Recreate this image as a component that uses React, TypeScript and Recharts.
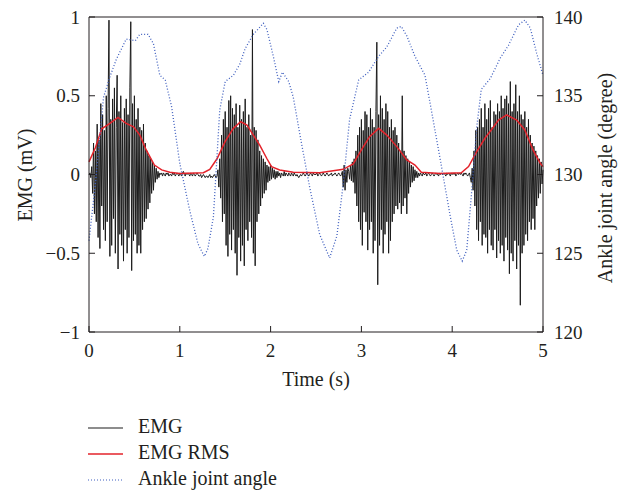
import { ComposedChart, Line, XAxis, YAxis } from 'recharts';

// EMG samples, one every 0.01 s from 0 to 5 s
const emgStep = 0.01;
const emgValues = [
  0, 0.01, -0.02, 0.05, -0.12, 0.2, -0.25, 0.15, -0.3, 0.32,
  -0.4, 0.22, -0.47, 0.45, -0.2, 0.38, -0.35, 0.28, -0.42, 0.5,
  -0.3, 0.42, 0.98, -0.52, 0.35, -0.45, 0.48, -0.28, 0.55, -0.5,
  0.3, 0.63, -0.6, 0.4, -0.38, 0.5, -0.45, 0.33, -0.55, 0.42,
  -0.35, 0.48, -0.5, 0.38, -0.4, 0.55, 0.97, -0.61, 0.45, -0.42,
  0.5, -0.38, 0.35, -0.5, 0.42, -0.45, 0.3, -0.5, 0.28, -0.35,
  0.32, -0.3, 0.2, -0.28, 0.15, -0.22, 0.12, -0.18, 0.1, -0.12,
  0.08, -0.1, 0.06, -0.05, 0.04, -0.03, 0.02, -0.02, 0.01, 0,
  0.01, -0.01, 0.01, 0, -0.01, 0.01, 0, 0.01, -0.01, 0,
  0, -0.01, 0.01, 0, 0.01, -0.01, 0, 0.01, 0, -0.01,
  0.01, 0, -0.01, 0.01, 0.02, 0, -0.01, 0.01, 0, 0.01,
  0, -0.01, 0.01, 0, -0.01, 0.01, 0, -0.01, 0, 0.01,
  0, -0.01, -0.01, 0, -0.02, -0.01, 0, -0.01, -0.02, -0.01,
  -0.01, -0.02, -0.01, 0, -0.02, -0.01, -0.02, -0.01, 0, -0.01,
  -0.02, -0.01, 0.03, -0.08, 0.1, -0.15, 0.25, -0.3, 0.35, -0.25,
  0.4, -0.45, 0.3, -0.52, 0.47, -0.38, 0.5, -0.48, 0.42, -0.35,
  0.38, -0.5, 0.45, -0.64, 0.3, -0.4, 0.44, -0.55, 0.35, -0.45,
  0.4, -0.58, 0.48, -0.35, 0.3, -0.42, 0.38, -0.3, 0.25, -0.4,
  0.92, -0.5, 0.3, -0.58, 0.28, -0.3, 0.22, -0.25, 0.15, -0.2,
  0.12, -0.15, 0.1, -0.12, 0.08, -0.1, 0.06, -0.05, 0.05, -0.04,
  0.06, -0.03, 0.04, -0.02, 0.03, -0.03, 0.02, -0.02, 0.02, -0.01,
  0.01, -0.02, 0.01, 0, -0.01, 0.02, -0.01, 0.01, 0, -0.01,
  0.01, 0, -0.01, 0.01, 0, -0.01, 0.01, 0, -0.01, 0,
  -0.01, -0.02, -0.01, 0, -0.01, 0, 0.01, 0, -0.01, 0,
  0.01, 0, -0.01, 0, 0.01, 0, -0.01, 0.01, 0, 0,
  0, 0.01, -0.01, 0, 0.01, 0, -0.01, 0, 0.01, 0,
  -0.01, 0, 0.01, 0, -0.01, 0, 0, 0.01, -0.01, 0,
  0, 0.01, 0, -0.01, 0, 0.01, 0, -0.01, 0, 0.02,
  -0.08, 0.06, -0.1, 0.03, -0.05, 0.04, 0.02, -0.03, 0.06, -0.04,
  0.08, -0.05, 0.1, -0.12, 0.15, -0.2, 0.25, -0.3, 0.3, -0.35,
  0.35, -0.45, 0.28, -0.24, 0.4, -0.3, 0.38, -0.48, 0.3, -0.35,
  0.42, -0.3, 0.35, -0.5, 0.3, -0.42, 0.4, 0.84, -0.7, 0.38,
  -0.45, 0.5, -0.35, 0.42, -0.5, 0.35, -0.38, 0.45, -0.3, 0.4,
  -0.5, 0.3, -0.42, 0.35, -0.3, 0.28, -0.25, 0.3, -0.2, 0.25,
  -0.22, 0.2, -0.18, 0.15, -0.25, 0.5, -0.2, 0.15, -0.15, 0.12,
  -0.25, 0.1, -0.12, 0.08, -0.08, 0.06, -0.05, 0.05, -0.04, 0.03,
  -0.02, 0.02, -0.02, 0.01, -0.01, 0.01, 0, -0.01, 0.01, 0,
  0, 0.01, -0.01, 0, 0.01, 0, -0.01, 0, 0.01, 0,
  -0.01, 0, 0.01, 0, 0, -0.01, 0.01, 0, 0.01, 0,
  0, 0.01, 0, -0.01, 0.01, 0, 0.01, 0, -0.01, 0.01,
  0, 0.01, 0, 0.01, -0.01, 0, 0.01, 0, 0.01, 0,
  0.01, 0, -0.01, 0.01, 0, 0.01, 0, -0.01, 0, 0.01,
  -0.02, -0.05, 0.04, -0.1, 0.15, -0.2, 0.28, -0.35, 0.3, -0.42,
  0.35, -0.3, 0.42, -0.45, 0.3, -0.38, 0.45, -0.4, 0.35, -0.5,
  0.42, -0.35, 0.47, -0.45, 0.3, -0.48, 0.4, -0.35, 0.38, -0.53,
  0.45, -0.42, 0.4, -0.5, 0.5, -0.45, 0.42, -0.55, 0.48, -0.4,
  0.5, -0.48, 0.45, -0.63, 0.59, -0.5, 0.4, -0.55, 0.45, -0.42,
  0.57, -0.6, 0.4, -0.45, 0.5, -0.83, 0.38, -0.5, 0.35, -0.45,
  0.4, -0.38, 0.3, -0.42, 0.35, -0.3, 0.25, -0.35, 0.2, -0.28,
  0.18, -0.35, 0.15, -0.2, 0.12, -0.15, 0.1, -0.12, 0.08, -0.06,
  0.03,
];

// EMG RMS envelope (mV)
const rmsTime = [
  0, 0.07, 0.14, 0.23, 0.32, 0.41, 0.49, 0.56, 0.63, 0.72, 0.8, 0.89, 1.0,
  1.26, 1.33, 1.41, 1.5, 1.59, 1.67, 1.74, 1.81, 1.88, 1.96, 2.01, 2.1, 2.25,
  2.54, 2.8, 2.91, 3.0, 3.09, 3.19, 3.28, 3.39, 3.5, 3.59, 3.66, 3.87, 4.1,
  4.18, 4.27, 4.36, 4.43, 4.51, 4.6, 4.71, 4.8, 4.89, 4.97, 5.0,
];
const rmsValues = [
  0.08, 0.17, 0.29, 0.325, 0.363, 0.325, 0.303, 0.25, 0.156, 0.06, 0.029, 0.014, 0.007,
  0.011, 0.033, 0.1, 0.21, 0.293, 0.335, 0.314, 0.25, 0.187, 0.1, 0.05, 0.029, 0.014,
  0.011, 0.033, 0.067, 0.156, 0.24, 0.293, 0.25, 0.177, 0.092, 0.06, 0.014, 0.007, 0.011,
  0.05, 0.145, 0.23, 0.283, 0.346, 0.378, 0.346, 0.283, 0.156, 0.071, 0.05,
];

// ankle joint angle (degree)
const angleTime = [
  0, 0.07, 0.16, 0.23, 0.3, 0.41, 0.51, 0.56, 0.65, 0.71, 0.78, 0.84, 0.91, 1.0,
  1.11, 1.2, 1.27, 1.31, 1.37, 1.44, 1.5, 1.59, 1.66, 1.72, 1.81, 1.92, 1.96,
  2.03, 2.09, 2.13, 2.2, 2.25, 2.33, 2.43, 2.54, 2.65, 2.73, 2.8, 2.87, 2.97,
  3.08, 3.19, 3.28, 3.39, 3.44, 3.5, 3.59, 3.7, 3.77, 3.87, 3.98, 4.05, 4.11,
  4.16, 4.21, 4.27, 4.32, 4.42, 4.53, 4.62, 4.73, 4.8, 4.86, 4.93, 5.0,
];
const angleValues = [
  125.8, 129.4, 134.9, 136.2, 137.3, 138.6, 138.5, 138.9, 138.9, 138.3, 136.3, 136, 134.3, 130.7,
  127.7, 125.6, 124.8, 125.3, 127.3, 134.1, 135.9, 136.3, 137, 138, 138.9, 139.6, 139.2,
  137.5, 135.9, 136.5, 135.9, 134.9, 132.3, 129.2, 126.2, 124.7, 126.1, 129.4, 133.5, 136,
  136.5, 137.5, 138.1, 139.3, 139.4, 138.8, 137.5, 136.3, 134.1, 130.9, 127.3, 125.2, 124.5,
  125.2, 128.6, 133, 135.4, 136.1, 137.4, 138.2, 139.5, 139.8, 139.3, 137.7, 136.3,
];

const timeTicks = [0, 1, 2, 3, 4, 5];
const emgTicks = [-1, -0.5, 0, 0.5, 1];
const angleTicks = [120, 125, 130, 135, 140];

const emgData = emgValues.map((v, i) => ({ t: +(i * emgStep).toFixed(2), emg: v }));
const rmsData = rmsTime.map((t, i) => ({ t, rms: rmsValues[i] }));
const angleData = angleTime.map((t, i) => ({ t, angle: angleValues[i] }));

const serif = '"Liberation Serif", "Times New Roman", serif';
const ink = '#231f20';
const tickFont = { fontFamily: serif, fontSize: 19, fill: ink };

const fmt = (v: number) => String(v).replace('-', '\u2212');

export default function App() {
  return (
    <div style={{ position: 'absolute', left: 0, top: 0, width: 626, height: 496, background: '#fff' }}>
      <ComposedChart width={626} height={496} margin={{ top: 0, right: 0, bottom: 0, left: 0 }}>
        <XAxis
          xAxisId="bottom"
          dataKey="t"
          type="number"
          domain={[0, 5]}
          ticks={timeTicks}
          allowDuplicatedCategory={false}
          height={164}
          tick={tickFont}
          tickSize={-6}
          tickMargin={17.5}
          stroke={ink}
          interval={0}
        />
        <XAxis
          xAxisId="top"
          orientation="top"
          dataKey="t"
          type="number"
          domain={[0, 5]}
          ticks={timeTicks}
          allowDuplicatedCategory={false}
          height={17}
          tick={false}
          tickSize={-6}
          stroke={ink}
        />
        <YAxis
          yAxisId="left"
          type="number"
          domain={[-1, 1]}
          ticks={emgTicks}
          width={89}
          tick={tickFont}
          tickFormatter={fmt}
          tickSize={-6}
          tickMargin={15}
          stroke={ink}
          interval={0}
        />
        <YAxis
          yAxisId="right"
          orientation="right"
          type="number"
          domain={[120, 140]}
          ticks={angleTicks}
          width={83}
          tick={tickFont}
          tickSize={-6}
          tickMargin={17}
          stroke={ink}
          interval={0}
        />
        <Line
          xAxisId="bottom"
          yAxisId="left"
          data={emgData}
          dataKey="emg"
          type="linear"
          stroke="#1c1c1c"
          strokeWidth={1}
          dot={false}
          isAnimationActive={false}
        />
        <Line
          xAxisId="bottom"
          yAxisId="left"
          data={rmsData}
          dataKey="rms"
          type="linear"
          stroke="#e3232b"
          strokeWidth={1.5}
          dot={false}
          isAnimationActive={false}
        />
        <Line
          xAxisId="bottom"
          yAxisId="right"
          data={angleData}
          dataKey="angle"
          type="linear"
          stroke="#3f5fbf"
          strokeWidth={1.3}
          strokeDasharray="1 2"
          dot={false}
          isAnimationActive={false}
        />
      </ComposedChart>
      <svg
        width={626}
        height={496}
        style={{ position: 'absolute', left: 0, top: 0, pointerEvents: 'none' }}
        fontFamily={serif}
        fontSize={20}
        fill={ink}
      >
        <text x={316} y={386} textAnchor="middle">Time (s)</text>
        <text x={32} y={175} textAnchor="middle" transform="rotate(-90 32 175)">EMG (mV)</text>
        <text x={612} y={178} textAnchor="middle" transform="rotate(-90 612 178)">
          Ankle joint angle (degree)
        </text>
        <line x1={88} y1={428} x2={123} y2={428} stroke="#1c1c1c" strokeWidth={1.2} />
        <text x={138} y={433}>EMG</text>
        <line x1={88} y1={454} x2={123} y2={454} stroke="#e3232b" strokeWidth={1.5} />
        <text x={138} y={459}>EMG RMS</text>
        <line x1={88} y1={480} x2={123} y2={480} stroke="#3f5fbf" strokeWidth={1.2} strokeDasharray="1 2" />
        <text x={138} y={485}>Ankle joint angle</text>
      </svg>
    </div>
  );
}
